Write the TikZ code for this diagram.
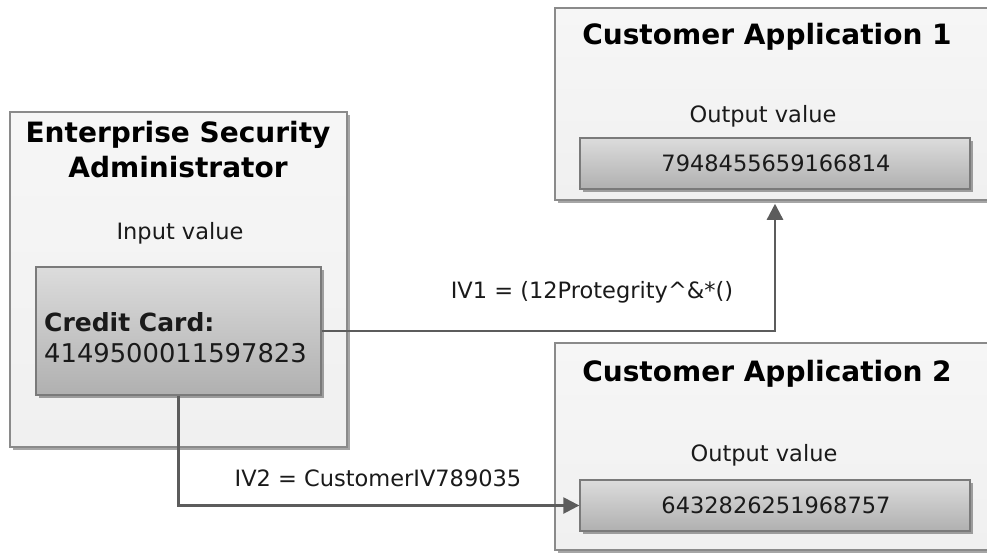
\documentclass[tikz,border=0pt]{standalone}
\usepackage{fontspec}
\setmainfont{DejaVu Sans}
\usetikzlibrary{arrows.meta,shadows}

\definecolor{panelfill}{HTML}{F0F0F0}
\definecolor{paneltop}{HTML}{F6F6F6}
\definecolor{panelline}{HTML}{8A8A8A}
\definecolor{valtop}{HTML}{DCDCDC}
\definecolor{valbot}{HTML}{B0B0B0}
\definecolor{valline}{HTML}{7A7A7A}
\definecolor{wire}{HTML}{5C5C5C}
\definecolor{ink}{HTML}{1A1A1A}

\tikzset{
  panel/.style={draw=panelline, line width=1.5pt, top color=paneltop, bottom color=panelfill,
    inner sep=0pt, anchor=center,
    drop shadow={shadow xshift=3pt, shadow yshift=-3pt, fill=black, opacity=0.35}},
  valuebox/.style={draw=valline, line width=1.3pt, top color=valtop, bottom color=valbot,
    inner sep=0pt, anchor=center,
    drop shadow={shadow xshift=3pt, shadow yshift=-3pt, fill=black, opacity=0.35}},
  title/.style={font=\bfseries\fontsize{28}{35}\selectfont, text=black, align=center, inner sep=0pt},
  caption/.style={font=\fontsize{22.5}{27}\selectfont, text=ink, inner sep=0pt},
  number/.style={font=\fontsize{22.5}{27}\selectfont, text=ink, inner sep=0pt},
  conn/.style={draw=wire, line width=2.4pt, -{Triangle[length=16pt, width=16pt]}},
}

\begin{document}
\begin{tikzpicture}[x=1pt, y=-1pt]
  \useasboundingbox (0,0) rectangle (987,552);
  \clip (0,0) rectangle (987,552);

  % Administrator panel
  \node[panel, minimum width=337pt, minimum height=335pt] (esa) at (178.5,279.5) {};
  \node[title] (esatitle) at (178,150) {Enterprise Security\\Administrator};
  \node[caption] (inlabel) at (180,233) {Input value};
  \node[valuebox, minimum width=285pt, minimum height=128pt] (cc) at (178.5,331) {};
  \node[inner sep=0pt, anchor=west, align=left, text=ink,
        font=\fontsize{25}{31}\selectfont] (cctext) at (44,338)
    {\textbf{Credit Card:}\\ {\fontsize{25.8}{31}\selectfont 4149500011597823}};

  % Customer application 1
  \node[panel, minimum width=445pt, minimum height=192pt] (ca1) at (777.5,104) {};
  \node[title] (ca1title) at (767,37) {Customer Application 1};
  \node[caption] (out1) at (763,116) {Output value};
  \node[valuebox, minimum width=390pt, minimum height=51pt] (ca1val) at (775,163.5) {};
  \node[number] (ca1num) at (776,163) {7948455659166814};

  % Customer application 2
  \node[panel, minimum width=445pt, minimum height=207pt] (ca2) at (777.5,446.5) {};
  \node[title] (ca2title) at (767,374) {Customer Application 2};
  \node[caption] (out2) at (764,455) {Output value};
  \node[valuebox, minimum width=390pt, minimum height=51pt] (ca2val) at (775,505.5) {};
  \node[number] (ca2num) at (776,505) {6432826251968757};

  % Connectors with their initialization vectors
  \draw[conn, shorten >=3pt] (cc.east) -| (ca1val |- ca1.south);
  \draw[conn] (cc.south) |- (ca2val.west);
  \node[caption] (iv1) at (592,292) {IV1 = (12Protegrity\textasciicircum\&*()};
  \node[caption] (iv2) at (378,478) {IV2 = CustomerIV789035};
\end{tikzpicture}
\end{document}
